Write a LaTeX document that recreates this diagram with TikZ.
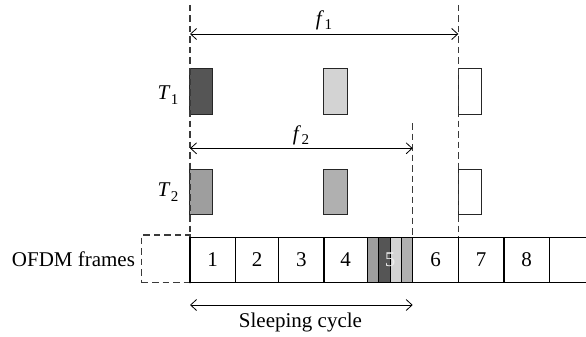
\documentclass[tikz,border=0pt]{standalone}
\usepackage{fontspec}
\setmainfont{Liberation Serif}
\usetikzlibrary{arrows.meta}
\newcommand{\symsub}[2]{\textit{#1}\kern0.3pt\raisebox{-0.45ex}{\fontsize{15}{16}\selectfont #2}}
\definecolor{darkslot}{HTML}{555555}
\definecolor{midslot}{HTML}{9E9E9E}
\definecolor{lightslot}{HTML}{D3D3D3}
\definecolor{greyslot}{HTML}{B0B0B0}
\definecolor{dashgrey}{HTML}{3A3A3A}
\begin{document}
\begin{tikzpicture}[x=1pt,y=-1pt,
  font=\fontsize{21}{24}\selectfont,
  frame/.style={draw, line width=1.1pt, minimum height=45.4pt, inner sep=0pt, outer sep=0pt},
  stripe/.style={draw, line width=0.9pt, minimum width=11.35pt, minimum height=45.4pt, inner sep=0pt, outer sep=0pt},
  slot/.style={draw=black!85, line width=0.9pt, minimum width=23.2pt, inner sep=0pt, outer sep=0pt},
  guide/.style={draw=dashgrey, line width=1.2pt, dash pattern=on 6.5pt off 4pt},
  span/.style={draw, line width=0.8pt, {Straight Barb[length=6pt,width=11pt]}-{Straight Barb[length=6pt,width=11pt]}},
  txt/.style={inner sep=0pt, outer sep=0pt}
]
\useasboundingbox (0,0) rectangle (586,337);

% dashed placeholder frame
\node[draw=dashgrey, line width=1.2pt, dash pattern=on 6.5pt off 4pt, minimum width=48.3pt, minimum height=47.7pt, inner sep=0pt] (prev) at (165.85,258.85) {};

% frames
\node[frame, minimum width=45.3pt] (fr1) at (212.65,260) {1};
\node[frame, minimum width=43.4pt] (fr2) at (257,260) {2};
\node[frame, minimum width=45.3pt] (fr3) at (301.35,260) {3};
\node[frame, minimum width=43.3pt] (fr4) at (345.65,260) {4};
\node[frame, minimum width=45.4pt] (fr5) at (390,260) {};
\node[stripe, fill=midslot] (s1) at (373,260) {};
\node[stripe, fill=darkslot] (s2) at (384.35,260) {};
\node[stripe, fill=lightslot] (s3) at (395.7,260) {};
\node[stripe, fill=greyslot] (s4) at (407,260) {};
\node[txt, text=white!93!black] (n5) at (fr5.center) {5};
\node[frame, minimum width=45.6pt] (fr6) at (435.5,260) {6};
\node[frame, minimum width=45.7pt] (fr7) at (481.15,260) {7};
\node[frame, minimum width=45.3pt] (fr8) at (526.65,260) {8};
\coordinate (endtop) at (586,237.3);
\coordinate (endbot) at (586,282.7);
\draw[line width=1.1pt] (fr8.north east) -- (endtop);
\draw[line width=1.1pt] (fr8.south east) -- (endbot);

\node[txt, anchor=east] (ofdm) at (135,259) {OFDM frames};

% T1 slots
\node[slot, fill=darkslot, minimum height=45.7pt] (a1) at (201,91.2) {};
\node[slot, fill=lightslot, minimum height=45.7pt] (a2) at (335.5,91.2) {};
\node[slot, fill=white, minimum height=45.7pt] (a3) at (469.9,91.2) {};
% T2 slots
\node[slot, fill=midslot, minimum height=45pt] (b1) at (201,191.8) {};
\node[slot, fill=greyslot, minimum height=45pt] (b2) at (335.5,191.8) {};
\node[slot, fill=white, minimum height=45pt] (b3) at (469.9,191.8) {};

\node[txt] (t1) at (168,95) {\symsub{T}{1}};
\node[txt] (t2) at (168,192) {\symsub{T}{2}};

% guide lines
\coordinate (g1top) at (190,5);
\coordinate (g2top) at (458.3,5);
\coordinate (g3top) at (412.7,123);
\draw[guide] (g1top) -- (fr1.north west);
\draw[guide] (g2top) -- (fr7.north west);
\draw[guide] (g3top) -- (fr6.north west);

% spans
\coordinate (f1L) at (190,34);
\coordinate (f1R) at (458.3,34);
\draw[span] (f1L) -- (f1R);
\node[txt] (f1) at (324,20) {\symsub{f}{1}};

\coordinate (f2L) at (190,148.3);
\coordinate (f2R) at (412.7,148.3);
\draw[span] (f2L) -- (f2R);
\node[txt] (f2) at (301,135) {\symsub{f}{2}};

\coordinate (scL) at (190,305);
\coordinate (scR) at (412.7,305);
\draw[span] (scL) -- (scR);
\node[txt] (sc) at (300.5,322) {Sleeping cycle};
\end{tikzpicture}
\end{document}
